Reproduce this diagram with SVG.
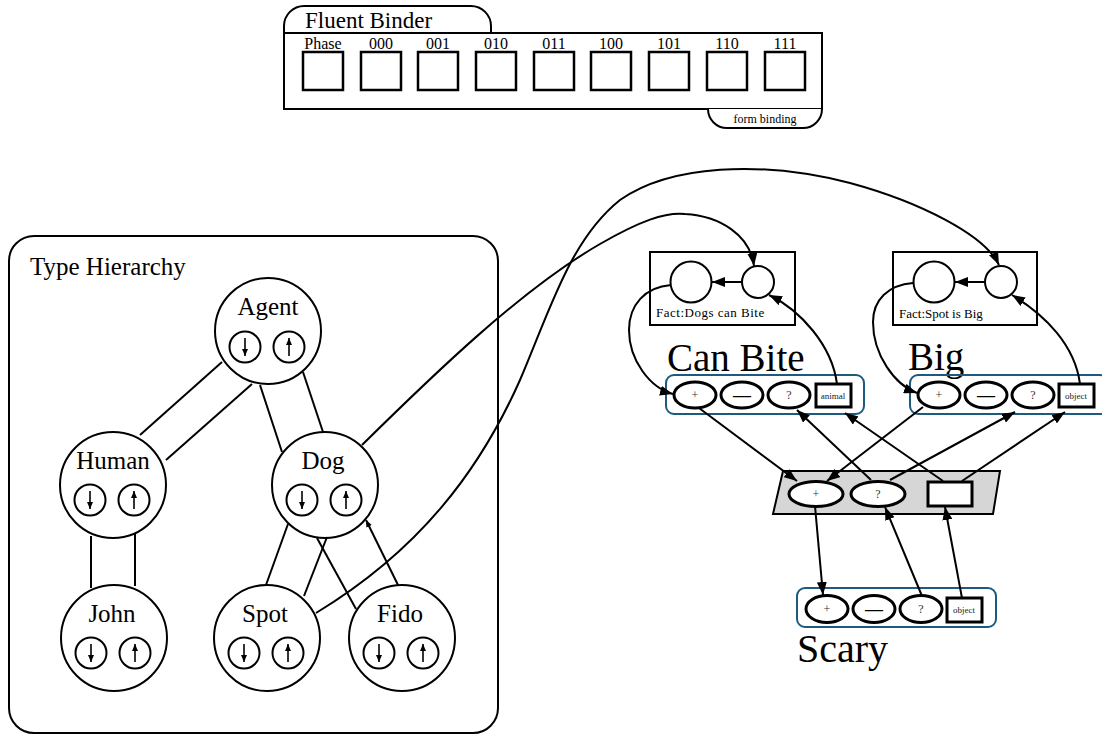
<svg xmlns="http://www.w3.org/2000/svg" xmlns:xlink="http://www.w3.org/1999/xlink" width="1102" height="734" viewBox="0 0 1102 734">
  <style>
    .ln { fill: none; stroke: #000; stroke-width: 2; }
    .box { fill: #fff; stroke: #000; stroke-width: 2; }
    .frame { fill: none; stroke: #000; stroke-width: 2; }
    .slot { fill: #fff; stroke: #000; stroke-width: 2.5; }
    .node { fill: #fff; stroke: #000; stroke-width: 2; }
    .port { fill: #fff; stroke: #000; stroke-width: 3; }
    .grp { fill: none; stroke: #1d5a7e; stroke-width: 2; }
    .arr { fill: none; stroke: #000; stroke-width: 2; marker-end: url(#ah); }
    .serif { font-family: "Liberation Serif", "Times New Roman", serif; fill: #000; }
    .mid { text-anchor: middle; }
    .small { font-size: 12px; fill: #333; }
    .tiny { font-size: 9px; fill: #222; }
  </style>
  <defs>
    <marker id="ah" markerUnits="userSpaceOnUse" markerWidth="13" markerHeight="10" refX="13" refY="5" orient="auto">
      <path d="M0,0 L13,5 L0,10 z" fill="#000"/>
    </marker>
    <marker id="ahs" markerUnits="userSpaceOnUse" markerWidth="7" markerHeight="6" refX="7" refY="3" orient="auto">
      <path d="M0,0 L7,3 L0,6 z" fill="#000"/>
    </marker>
    <!-- pair of down/up toggles shown inside each type node -->
    <g id="toggles">
      <circle cx="-23" cy="0" r="15.5" class="node"/>
      <line x1="-23" y1="-9" x2="-23" y2="9" stroke="#000" stroke-width="1.6" marker-end="url(#ahs)"/>
      <circle cx="21" cy="0" r="15.5" class="node"/>
      <line x1="21" y1="9" x2="21" y2="-9" stroke="#000" stroke-width="1.6" marker-end="url(#ahs)"/>
    </g>
  </defs>

  <rect width="1102" height="734" fill="#fff"/>

  <!-- Fluent Binder -->
  <g id="fluent-binder">
    <path class="box" d="M284,33 V26 A20,20 0 0 1 304,6 H471 A20,20 0 0 1 491,26 V33"/>
    <rect class="box" x="284" y="33" width="538" height="76"/>
    <path class="box" d="M708,109 A19,19 0 0 0 727,128 H803 A19,19 0 0 0 822,109"/>
    <text class="serif" x="305" y="28" font-size="23">Fluent Binder</text>
    <text class="serif mid" x="765" y="123" font-size="12">form binding</text>
    <g class="serif mid" font-size="16">
      <text x="323" y="49">Phase</text>
      <text x="381" y="49">000</text>
      <text x="438" y="49">001</text>
      <text x="496" y="49">010</text>
      <text x="554" y="49">011</text>
      <text x="611" y="49">100</text>
      <text x="669" y="49">101</text>
      <text x="727" y="49">110</text>
      <text x="785" y="49">111</text>
    </g>
    <rect class="slot" x="303" y="52" width="40" height="38"/>
    <rect class="slot" x="361" y="52" width="40" height="38"/>
    <rect class="slot" x="418" y="52" width="40" height="38"/>
    <rect class="slot" x="476" y="52" width="40" height="38"/>
    <rect class="slot" x="534" y="52" width="40" height="38"/>
    <rect class="slot" x="591" y="52" width="40" height="38"/>
    <rect class="slot" x="649" y="52" width="40" height="38"/>
    <rect class="slot" x="707" y="52" width="40" height="38"/>
    <rect class="slot" x="765" y="52" width="40" height="38"/>
  </g>

  <!-- Type Hierarchy container -->
  <g id="type-hierarchy">
    <rect x="9" y="236" width="489" height="497" rx="25" class="frame"/>
    <text class="serif" x="30" y="275" font-size="25">Type Hierarchy</text>
  </g>

  <!-- Type nodes -->
  <g id="node-agent">
    <circle class="node" cx="268" cy="331" r="53"/>
    <text class="serif mid" x="268" y="315" font-size="25">Agent</text>
    <use xlink:href="#toggles" x="268" y="347"/>
  </g>
  <g id="node-human">
    <circle class="node" cx="113" cy="485" r="53"/>
    <text class="serif mid" x="113" y="469" font-size="25">Human</text>
    <use xlink:href="#toggles" x="113" y="500"/>
  </g>
  <g id="node-dog">
    <circle class="node" cx="325" cy="485" r="53"/>
    <text class="serif mid" x="323" y="469" font-size="25">Dog</text>
    <use xlink:href="#toggles" x="325" y="500"/>
  </g>
  <g id="node-john">
    <circle class="node" cx="114" cy="638" r="53"/>
    <text class="serif mid" x="112" y="622" font-size="25">John</text>
    <use xlink:href="#toggles" x="114" y="653"/>
  </g>
  <g id="node-spot">
    <circle class="node" cx="267" cy="638" r="53"/>
    <text class="serif mid" x="265" y="622" font-size="25">Spot</text>
    <use xlink:href="#toggles" x="267" y="653"/>
  </g>
  <g id="node-fido">
    <circle class="node" cx="402" cy="638" r="53"/>
    <text class="serif mid" x="400" y="622" font-size="25">Fido</text>
    <use xlink:href="#toggles" x="402" y="653"/>
  </g>

  <!-- Facts -->
  <g id="fact-dogs-can-bite">
    <rect class="frame" x="650" y="252" width="145" height="73"/>
    <circle class="node" cx="691" cy="282" r="20.5"/>
    <circle class="node" cx="758" cy="282" r="16"/>
    <text class="serif" x="656" y="317" font-size="13" fill="#222" letter-spacing="0.5">Fact:Dogs can Bite</text>
  </g>
  <g id="fact-spot-is-big">
    <rect class="frame" x="893" y="252" width="144" height="73"/>
    <circle class="node" cx="934" cy="282" r="20.5"/>
    <circle class="node" cx="1001" cy="282" r="16"/>
    <text class="serif" x="899" y="318" font-size="13" fill="#222">Fact:Spot is Big</text>
  </g>

  <!-- Predicate role groups -->
  <g id="pred-can-bite">
    <text class="serif" x="667" y="371" font-size="39">Can Bite</text>
    <rect class="grp" x="666" y="375" width="198" height="39" rx="8"/>
    <ellipse class="port" cx="695" cy="395" rx="21" ry="13"/>
    <ellipse class="port" cx="742" cy="395" rx="21" ry="13"/>
    <ellipse class="port" cx="789" cy="395" rx="21" ry="13"/>
    <rect class="port" x="816" y="384" width="35" height="23"/>
    <text class="serif mid small" x="695" y="399">+</text>
    <text class="serif mid" x="742" y="401" font-size="18" font-weight="bold">—</text>
    <text class="serif mid small" x="789" y="399">?</text>
    <text class="serif mid tiny" x="833" y="399">animal</text>
  </g>
  <g id="pred-big">
    <text class="serif" x="908" y="370" font-size="39">Big</text>
    <rect class="grp" x="910" y="375" width="198" height="39" rx="8"/>
    <ellipse class="port" cx="939" cy="395" rx="21" ry="13"/>
    <ellipse class="port" cx="986" cy="395" rx="21" ry="13"/>
    <ellipse class="port" cx="1033" cy="395" rx="21" ry="13"/>
    <rect class="port" x="1059" y="384" width="35" height="23"/>
    <text class="serif mid small" x="939" y="399">+</text>
    <text class="serif mid" x="986" y="401" font-size="18" font-weight="bold">—</text>
    <text class="serif mid small" x="1033" y="399">?</text>
    <text class="serif mid tiny" x="1076" y="399">object</text>
  </g>
  <g id="pred-scary">
    <rect class="grp" x="797" y="588" width="199" height="39" rx="8"/>
    <ellipse class="port" cx="827" cy="609" rx="21" ry="13.5"/>
    <ellipse class="port" cx="874" cy="609" rx="21" ry="13.5"/>
    <ellipse class="port" cx="921" cy="609" rx="21" ry="13.5"/>
    <rect class="port" x="947" y="598" width="35" height="24"/>
    <text class="serif mid small" x="827" y="613">+</text>
    <text class="serif mid" x="874" y="615" font-size="18" font-weight="bold">—</text>
    <text class="serif mid small" x="921" y="613">?</text>
    <text class="serif mid tiny" x="964" y="613">object</text>
    <text class="serif" x="797" y="662" font-size="40">Scary</text>
  </g>

  <!-- Binder between roles -->
  <g id="role-binder">
    <polygon points="783,471 1000,471 993,514 773,514" fill="#d6d6d6" stroke="#000" stroke-width="2"/>
    <ellipse class="port" cx="816" cy="494" rx="27" ry="12.5" stroke-width="2.5"/>
    <ellipse class="port" cx="878" cy="494" rx="27" ry="12.5" stroke-width="2.5"/>
    <rect class="port" x="928" y="482" width="44" height="24" stroke-width="2.5"/>
    <text class="serif mid small" x="816" y="498">+</text>
    <text class="serif mid small" x="878" y="498">?</text>
  </g>

  <!-- Connectors -->
  <g id="connectors">
    <!-- hierarchy links -->
    <line class="ln" x1="222" y1="362" x2="140" y2="435"/>
    <line class="ln" x1="252" y1="384" x2="166" y2="460"/>
    <line class="ln" x1="260" y1="385" x2="282" y2="452"/>
    <line class="ln" x1="303" y1="372" x2="323" y2="432"/>
    <line class="ln" x1="91" y1="536" x2="91" y2="588"/>
    <line class="ln" x1="135" y1="534" x2="135" y2="586"/>
    <line class="ln" x1="288" y1="524" x2="266" y2="585"/>
    <line class="ln" x1="327" y1="537" x2="304" y2="596"/>
    <line class="ln" x1="317" y1="538" x2="356" y2="609"/>
    <line class="ln" x1="398" y1="585" x2="366" y2="520" marker-end="url(#ahs)"/>

    <!-- type nodes to facts -->
    <path class="arr" d="M362,445 C430,378 520,290 600,244 C640,221 665,212 685,214 C720,216 750,235 754,266"/>
    <path class="arr" d="M316,613 C420,550 480,470 520,380 C550,310 570,240 620,200 C670,165 760,160 850,183 C920,202 985,235 999,265"/>

    <!-- inside the facts -->
    <line class="arr" x1="742" y1="282" x2="712" y2="282"/>
    <line class="arr" x1="985" y1="282" x2="955" y2="282"/>
    <path class="arr" d="M671,285 C645,287 629,305 629,330 C629,360 650,388 673,394"/>
    <path class="arr" d="M837,384 C832,345 800,310 769,295"/>
    <path class="arr" d="M913,283 C888,285 873,300 873,322 C873,355 895,385 917,393"/>
    <path class="arr" d="M1080,384 C1075,345 1045,315 1012,295"/>

    <!-- roles to binder -->
    <line class="arr" x1="699" y1="408" x2="797" y2="481"/>
    <line class="arr" x1="871" y1="480" x2="797" y2="410"/>
    <line class="arr" x1="943" y1="481" x2="845" y2="413"/>
    <line class="arr" x1="923" y1="407" x2="827" y2="481"/>
    <line class="arr" x1="890" y1="480" x2="1015" y2="412"/>
    <line class="arr" x1="962" y1="481" x2="1065" y2="412"/>
    <line class="arr" x1="815" y1="506" x2="823" y2="595"/>
    <line class="arr" x1="922" y1="596" x2="885" y2="507"/>
    <line class="arr" x1="962" y1="598" x2="945" y2="507"/>
  </g>
</svg>
